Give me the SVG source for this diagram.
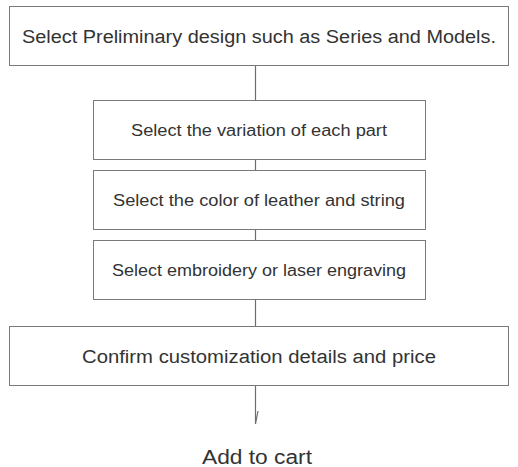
<svg xmlns="http://www.w3.org/2000/svg" width="518" height="467" viewBox="0 0 518 467">
<defs>
<style>
.box{fill:#ffffff;stroke:#7a7a7a;stroke-width:1}
.t{font-family:"Liberation Sans","Noto Sans",sans-serif;fill:#333333;text-anchor:middle}
.l{font-size:18px}
.s{font-size:16px}
.c{fill:none;stroke:#6e6e6e;stroke-width:1.2}
</style>
</defs>
<rect width="518" height="467" fill="#ffffff"/>
<g id="connectors">
<path class="c" d="M255.5 65V100M255.5 159V170M255.5 229V240M255.5 299V326M255.5 385V424M258 411L255.5 424"/>
</g>
<g id="n1"><rect class="box" x="9.5" y="6.5" width="499" height="59"/><text class="t l" x="259" y="43" textLength="474" lengthAdjust="spacingAndGlyphs">Select Preliminary design such as Series and Models.</text></g>
<g id="n2"><rect class="box" x="93.5" y="100.5" width="332" height="59"/><text class="t s" x="259" y="136" textLength="256" lengthAdjust="spacingAndGlyphs">Select the variation of each part</text></g>
<g id="n3"><rect class="box" x="93.5" y="170.5" width="332" height="59"/><text class="t s" x="259" y="206" textLength="292" lengthAdjust="spacingAndGlyphs">Select the color of leather and string</text></g>
<g id="n4"><rect class="box" x="93.5" y="240.5" width="332" height="59"/><text class="t s" x="259" y="276" textLength="294" lengthAdjust="spacingAndGlyphs">Select embroidery or laser engraving</text></g>
<g id="n5"><rect class="box" x="9.5" y="326.5" width="499" height="59"/><text class="t l" x="259" y="363" textLength="354" lengthAdjust="spacingAndGlyphs">Confirm customization details and price</text></g>
<g id="n6"><text class="t" x="257" y="464" font-size="20" textLength="110" lengthAdjust="spacingAndGlyphs">Add to cart</text></g>
</svg>
